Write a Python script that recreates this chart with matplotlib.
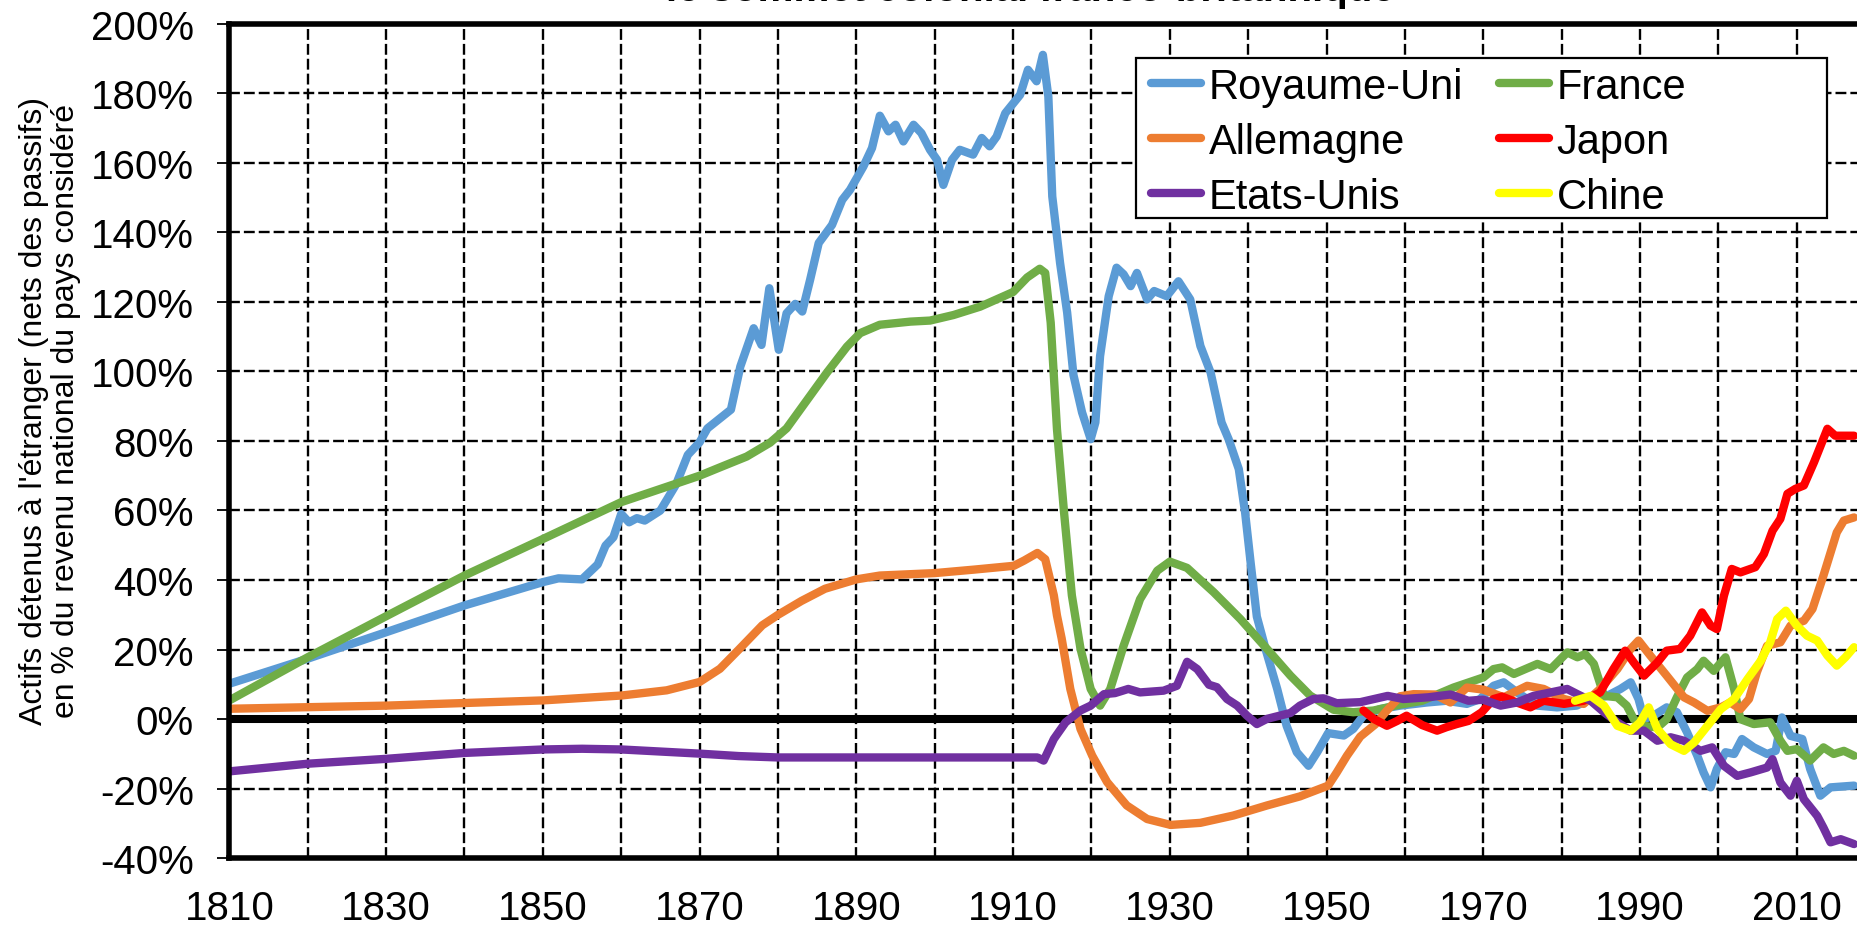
import matplotlib
matplotlib.use("Agg")
import matplotlib.pyplot as plt
from matplotlib.patches import Rectangle

plt.rcParams['font.family'] = ['Liberation Sans', 'DejaVu Sans']

# Values (years, % of national income)
uk_years = [1810, 1820, 1830, 1840, 1850, 1852, 1855, 1857, 1858, 1859, 1860, 1861, 1862,
            1863, 1865, 1867, 1868.5, 1870, 1871, 1872.5, 1874, 1875.2, 1876.9, 1877.9,
            1878.9, 1880.1, 1881.1, 1882.2, 1883.1, 1884.1, 1885.2, 1886.9, 1888.2, 1889.2,
            1890.9, 1892, 1893, 1894.1, 1895, 1896, 1897.3, 1898.3, 1899.4, 1900.3, 1901.1,
            1902.2, 1903.2, 1904.9, 1906, 1907, 1907.9, 1909, 1910.9, 1911.9, 1913, 1913.8,
            1914.5, 1915, 1916, 1916.9, 1917.7, 1918.8, 1919.9, 1920.5, 1921.1, 1922.2,
            1923.2, 1924.1, 1925, 1925.8, 1927.1, 1928, 1929.6, 1931.1, 1932.6, 1933.9,
            1935.2, 1936.6, 1937.5, 1938.8, 1939.6, 1940.3, 1941.1, 1942.3, 1943.7, 1944.9,
            1946.2, 1947.7, 1948.8, 1950.2, 1952.2, 1953.4, 1954.7, 1956.8, 1959.4, 1962.8,
            1965.3, 1967.9, 1969.6, 1971.3, 1972.6, 1974.3, 1976.9, 1979.4, 1981.9, 1983.7,
            1985.8, 1987.5, 1988.8, 1989.8, 1990.5, 1991.7, 1993.4, 1994.7, 1996, 1997.3,
            1998.1, 1999, 1999.8, 2000.9, 2002, 2003, 2004.5, 2006.2, 2007.3, 2008.1, 2009.2,
            2010.7, 2011.7, 2013, 2014.3, 2017.3]
uk_vals = [10.2, 17.4, 25.0, 32.7, 39.4, 40.5, 40.2, 44.5, 49.9, 52.3, 59.0, 56.6, 57.8,
           57.1, 60.0, 67.5, 76.0, 79.6, 83.6, 86.3, 89.0, 101.4, 112.4, 107.6,
           123.9, 106.2, 116.7, 119.4, 117.2, 126.3, 136.9, 142.1, 149.3, 152.2,
           158.9, 164.2, 173.5, 169.0, 170.9, 166.1, 170.9, 168.5, 163.7, 160.8, 153.6,
           160.8, 163.7, 162.3, 167.1, 164.7, 167.5, 174.2, 179.5, 186.7, 183.4, 191.0,
           179.0, 150.3, 131.1, 116.9, 99.0, 88.2, 80.5, 85.3, 104.4, 121.6,
           129.8, 127.9, 124.5, 128.3, 120.7, 123.1, 121.6, 125.9, 120.7, 107.3,
           99.7, 85.3, 80.5, 71.9, 59.5, 45.2, 29.5, 19.5, 8.7, -1.9,
           -9.5, -13.4, -9.5, -4.0, -4.7, -2.8, 1.0, 2.9, 3.9, 4.8,
           5.3, 4.4, 5.8, 9.6, 10.6, 7.7, 3.9, 3.4, 3.9, 5.8,
           6.7, 8.7, 10.6, 5.8, 0.0, 1.0, 3.4, 2.0, -3.8, -10.5,
           -15.3, -19.6, -14.3, -9.5, -10.0, -5.7, -8.1, -10.0, -9.1, 0.5, -4.8,
           -5.7, -14.3, -22.0, -19.6, -19.1]

fr_years = [1810, 1820, 1830, 1840, 1850, 1860, 1870, 1872.6, 1876, 1879, 1881.1, 1882.8,
            1886.2, 1888.8, 1890.5, 1893, 1896.9, 1899.4, 1902.4, 1905.8, 1910, 1911.8,
            1913.4, 1914.1, 1914.8, 1915.6, 1916.5, 1917.5, 1918.6, 1919.9, 1921.1, 1922.4,
            1924.1, 1926.2, 1928.4, 1930, 1932.2, 1935.6, 1939, 1942.4, 1945.4, 1947.9,
            1950.9, 1953.4, 1956, 1959.4, 1962.2, 1966.2, 1970, 1971.3, 1972.4, 1973.9,
            1976.9, 1978.6, 1980.7, 1982, 1983, 1984.1, 1985.4, 1987.1, 1988.3, 1989.2,
            1990.5, 1992.2, 1993.4, 1994.7, 1996, 1997.3, 1998.1, 1999.4, 2000.9, 2002,
            2002.8, 2004.5, 2006.6, 2007.9, 2008.8, 2010, 2011.7, 2013.4, 2014.7, 2016, 2017.3]
fr_vals = [5.4, 17.8, 29.6, 41.3, 51.8, 62.4, 70.0, 72.4, 75.5, 79.5, 83.6, 88.9,
           99.5, 107.1, 111.0, 113.4, 114.3, 114.6, 116.2, 118.6, 122.8, 127.0,
           129.5, 128.3, 114.0, 83.4, 59.5, 35.6, 20.3, 8.7, 3.9, 8.7,
           21.1, 34.5, 42.7, 45.3, 43.5, 36.5, 28.8, 20.2, 12.5, 6.8,
           2.7, 2.0, 2.5, 4.2, 5.3, 9.1, 12.0, 14.4, 14.9, 13.0,
           15.9, 14.4, 19.2, 17.8, 18.7, 15.9, 6.7, 6.3, 3.9, 0.0,
           -1.9, -2.4, 0.0, 6.3, 12.0, 14.4, 16.8, 13.9, 17.8, 8.7,
           0.0, -1.4, -0.9, -6.2, -9.1, -8.6, -11.9, -8.1, -10.0, -9.1, -10.5]

de_years = [1810, 1830, 1850, 1860, 1865.8, 1870, 1872.6, 1875, 1878, 1880, 1883, 1886,
            1890, 1893, 1900, 1905, 1910.1, 1911.4, 1913.1, 1914.1, 1915.2, 1915.6, 1916.2,
            1917.3, 1918.6, 1920.1, 1922, 1924.5, 1927.1, 1930.1, 1933.9, 1938.1, 1942.4,
            1946.6, 1950.2, 1951.3, 1952.6, 1954.3, 1956.2, 1957.7, 1959.4, 1961.1, 1963.8,
            1965.8, 1967.9, 1970, 1972.6, 1975.6, 1977.7, 1980.3, 1982.8, 1984.9, 1987.1,
            1988.8, 1989.8, 1991.3, 1993.4, 1995.6, 1996.9, 1998.6, 2000.3, 2001.5, 2002.8,
            2003.9, 2004.9, 2006.2, 2007.9, 2009.2, 2010.9, 2012, 2013.4, 2015.1, 2016, 2017.3]
de_vals = [3.0, 3.9, 5.4, 6.8, 8.3, 10.7, 14.5, 20.0, 27.0, 30.0, 34.0, 37.5,
           40.2, 41.3, 42.0, 43.0, 44.1, 45.6, 47.8, 46.0, 35.6, 29.8, 23.2,
           8.7, -2.8, -10.5, -18.1, -24.8, -28.7, -30.4, -29.8, -27.7, -24.8,
           -22.2, -19.1, -15.3, -10.5, -5.0, -1.5, 2.5, 6.6, 7.2, 7.1,
           4.8, 9.1, 8.5, 6.3, 9.6, 8.7, 5.8, 4.4, 8.7, 14.4,
           20.2, 22.6, 18.3, 12.5, 6.3, 4.8, 2.4, 3.4, 4.8, 2.9,
           5.8, 13.5, 21.1, 22.1, 26.9, 28.3, 31.7, 41.3, 53.7, 57.1, 58.0]

jp_years = [1954.7, 1956, 1957.7, 1959, 1960.2, 1962.2, 1964.1, 1965.3, 1966.6, 1968.1,
            1969.8, 1971.3, 1972.4, 1974.5, 1976, 1977.7, 1980.3, 1982.8, 1984.9, 1986.6,
            1988.1, 1989.2, 1990.5, 1992.2, 1993.4, 1995.1, 1996.4, 1997.9, 1999, 1999.8,
            2000.7, 2001.7, 2002.8, 2004.7, 2005.8, 2006.9, 2007.9, 2008.8, 2009.8, 2010.9,
            2012.2, 2013.9, 2014.9, 2017.3]
jp_vals = [2.5, 0.1, -1.9, -0.5, 1.0, -1.7, -3.3, -2.3, -1.4, -0.5,
           2.0, 5.8, 6.5, 4.6, 3.4, 5.3, 4.4, 5.3, 7.7, 14.4,
           19.7, 16.3, 12.5, 16.3, 19.7, 20.2, 24.0, 30.7, 26.9, 25.9,
           35.5, 43.2, 42.2, 43.7, 47.5, 54.2, 57.6, 64.8, 66.2, 67.2,
           73.9, 83.5, 81.5, 81.5]

us_years = [1810, 1820, 1830, 1840, 1850, 1855, 1860, 1870, 1875, 1880, 1890, 1900, 1913.1,
            1913.9, 1915.2, 1916.7, 1918.6, 1919.9, 1921.6, 1923, 1924.7, 1926.2, 1929.2,
            1930.9, 1932.2, 1933.5, 1935, 1936, 1937.3, 1938.6, 1939.8, 1941.1, 1942.4,
            1945.4, 1946.6, 1948.3, 1949.6, 1951.3, 1954.3, 1957.8, 1959.8, 1963, 1965.8,
            1968.1, 1970, 1972.2, 1974.3, 1976.4, 1978.6, 1980.7, 1982, 1983.7, 1985.4,
            1987.1, 1988.8, 1990.5, 1992.2, 1993.9, 1995.6, 1997.7, 1999.2, 2000.7, 2002.4,
            2004.1, 2006.2, 2006.9, 2007.9, 2009.2, 2010, 2010.9, 2012.6, 2013.4, 2014.3,
            2015.6, 2017.3]
us_vals = [-15.0, -12.8, -11.4, -9.7, -8.7, -8.5, -8.7, -9.9, -10.6, -11.0, -11.0, -11.0, -11.0,
           -11.9, -5.7, -0.9, 2.5, 3.9, 7.2, 7.5, 8.7, 7.7, 8.2,
           9.6, 16.5, 14.4, 9.9, 9.2, 5.8, 3.9, 1.1, -1.4, 0.1,
           1.8, 3.9, 5.8, 6.0, 4.6, 4.9, 6.7, 5.8, 6.3, 7.1,
           5.3, 5.6, 3.9, 4.8, 6.7, 7.7, 8.7, 7.2, 5.3, 2.0,
           -0.9, -3.3, -3.3, -6.2, -5.2, -6.2, -9.1, -8.1, -13.4, -16.3,
           -15.3, -13.9, -11.5, -18.2, -22.0, -17.7, -23.0, -27.8, -31.2, -35.4,
           -34.5, -35.9]

cn_years = [1981.7, 1983.7, 1985.4, 1987.1, 1988.8, 1990, 1991.1, 1992.2, 1993.9, 1995.6,
            1996.9, 1998.6, 2000.3, 2002, 2003.7, 2005.4, 2006.6, 2007.5, 2008.6, 2010,
            2011.3, 2012.6, 2013.9, 2015.1, 2016.2, 2017.3]
cn_vals = [5.3, 6.7, 3.9, -1.9, -3.3, -0.9, 3.4, -2.8, -7.2, -9.1,
           -6.7, -1.9, 2.9, 5.8, 11.5, 16.8, 22.1, 28.8, 31.2, 26.9,
           24.0, 22.6, 18.3, 15.4, 17.8, 20.7]

fig = plt.figure(figsize=(18.57, 9.29), dpi=100)
ax = fig.add_axes([0.1235, 0.0750, 0.8863, 0.8986])

lw = 6
style = dict(lw=lw, solid_capstyle='round', solid_joinstyle='round')
l_uk, = ax.plot(uk_years, uk_vals, color='#5B9BD5', label='Royaume-Uni', **style)
l_fr, = ax.plot(fr_years, fr_vals, color='#70AD47', label='France', **style)
l_de, = ax.plot(de_years, de_vals, color='#ED7D31', label='Allemagne', **style)
l_jp, = ax.plot(jp_years, jp_vals, color='#FF0000', label='Japon', **style)
l_us, = ax.plot(us_years, us_vals, color='#7030A0', label='Etats-Unis', **style)
l_cn, = ax.plot(cn_years, cn_vals, color='#FFFF00', label='Chine', **style)

ax.axhline(0, color='black', lw=5.8, zorder=1.5)

ax.set_xlim(1810, 2020)
ax.set_ylim(-40, 200)
ax.set_xticks(range(1810, 2020, 20))
ax.set_xticks(range(1820, 2020, 20), minor=True)
ax.set_yticks(range(-40, 201, 20))
ax.set_yticklabels([f'{v}%' for v in range(-40, 201, 20)])

grid_kw = dict(color='black', lw=1.7, ls=(0, (4.6, 1.7)))
ax.grid(True, which='both', axis='x', **grid_kw)
ax.grid(True, which='major', axis='y', **grid_kw)
ax.set_axisbelow(True)

ax.tick_params(axis='y', which='major', direction='out', length=8.6, width=1.3, pad=17, labelsize=29)
ax.tick_params(axis='x', which='both', length=0, pad=22, labelsize=29)

for side in ['left', 'top', 'bottom']:
    ax.spines[side].set_linewidth(4)
ax.spines['right'].set_visible(False)

fig.text(0.0269, 0.5576, "Actifs détenus à l'étranger (nets des passifs)\nen % du revenu national du pays considéré",
         rotation=90, ha='center', va='center', fontsize=23, linespacing=1.1)

# title: cropped above the picture in the reference, only the foot of the letters shows
fig.text(0.555, 1 - 0.8 / 929, "le sommet colonial franco-britannique",
         ha='center', va='baseline', fontsize=29, fontweight='bold')

leg = fig.legend(handles=[l_uk, l_de, l_us, l_fr, l_jp, l_cn], ncol=2, loc='upper left',
                 bbox_to_anchor=(1151 / 1857, 1 - 68 / 929), frameon=False, borderpad=0,
                 fontsize=30, handlelength=1.2, handletextpad=0.19, columnspacing=0.85,
                 labelspacing=0.36, borderaxespad=0)
fig.patches.append(Rectangle((1136 / 1857, 1 - 219 / 929), (1827 - 1136) / 1857, 160 / 929,
                             transform=fig.transFigure, fill=True, facecolor='white',
                             edgecolor='black', lw=1.6, zorder=2))
leg.set_zorder(3)

fig.savefig('out.png', dpi=100)
